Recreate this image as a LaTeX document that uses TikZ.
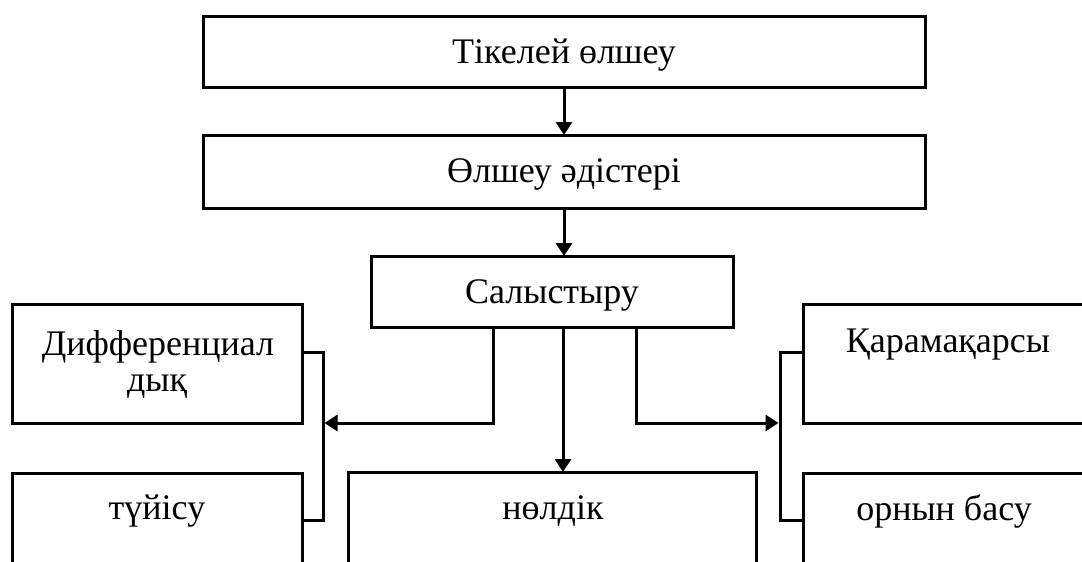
\documentclass[tikz,border=0pt]{standalone}
\usepackage{fontspec}
\setmainfont{Liberation Serif}
\usetikzlibrary{arrows.meta}
\begin{document}
\begin{tikzpicture}[x=1pt,y=-1pt,
  box/.style={draw=black,line width=3pt,inner sep=0pt,outer sep=0pt,fill=white},
  txt/.style={anchor=base,inner sep=0pt,font=\fontsize{36}{42}\selectfont},
  conn/.style={draw=black,line width=3pt},
  arr/.style={conn,-{Triangle[length=13pt,width=16pt]}}]
\useasboundingbox (0,0) rectangle (1082,562);
\fill[white] (0,0) rectangle (1082,562);
\clip (0,0) rectangle (1082,562);
% boxes
\node[box,minimum width=722pt,minimum height=71pt] (b1) at (564,51.5) {};
\node[box,minimum width=722pt,minimum height=73pt] (b2) at (564,171.5) {};
\node[box,minimum width=362pt,minimum height=71pt] (b3) at (552,291.5) {};
\node[box,minimum width=290pt,minimum height=119pt] (bl1) at (157,363.5) {};
\node[box,minimum width=290pt,minimum height=130pt] (bl2) at (157,538) {};
\node[box,minimum width=408pt,minimum height=130pt] (bm) at (552,537) {};
\node[box,minimum width=290pt,minimum height=119pt] (br1) at (948,363.5) {};
\node[box,minimum width=290pt,minimum height=130pt] (br2) at (948,538) {};
% texts
\node[txt] (t1) at (564,63) {Тікелей өлшеу};
\node[txt] (t2) at (564,182) {Өлшеу әдістері};
\node[txt] (t3) at (552,303) {Салыстыру};
\node[txt] (tl1a) at (158,355) {Дифференциал};
\node[txt] (tl1b) at (157,391) {дық};
\node[txt] (tl2) at (157,519) {түйісу};
\node[txt] (tm) at (553,519) {нөлдік};
\node[txt] (tr1) at (948,352) {Қарамақарсы};
\node[txt] (tr2) at (944,520) {орнын басу};
% bracket coordinates
\coordinate (lb1) at (323,352);
\coordinate (lb2) at (323,520);
\coordinate (lmid) at (323,423);
\coordinate (rb1) at (780,352);
\coordinate (rb2) at (780,520);
\coordinate (rmid) at (780,423);
% brackets
\draw[conn] (bl1.east |- lb1) -- (lb1) -- (lb2) -- (bl2.east |- lb2);
\draw[conn] (br1.west |- rb1) -- (rb1) -- (rb2) -- (br2.west |- rb2);
% arrows
\draw[arr] (b1.south) -- (b2.north);
\draw[arr] (b2.south) -- (b2.south |- b3.north);
\draw[arr] (b3.south -| 563,0) -- (563,0 |- bm.north);
\draw[arr] (b3.south -| 493,0) -- (493,423) -- ([xshift=1.5pt]lmid);
\draw[arr] (b3.south -| 636,0) -- (636,423) -- ([xshift=-1.5pt]rmid);
\end{tikzpicture}
\end{document}
